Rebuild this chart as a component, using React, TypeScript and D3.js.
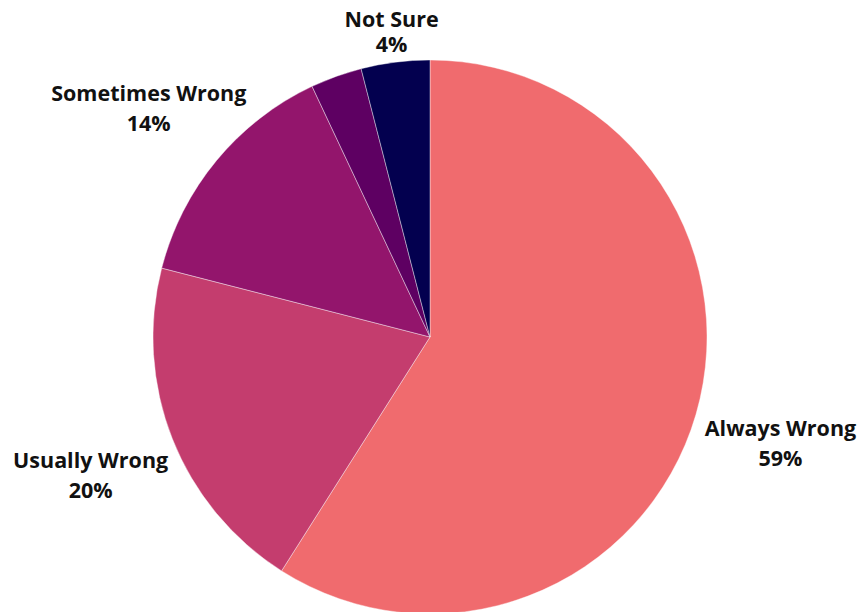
import { useEffect, useRef } from 'react';
import * as d3 from 'd3';

const CATEGORIES = ['Always Wrong', 'Usually Wrong', 'Sometimes Wrong', 'Rarely Wrong', 'Not Sure'];
const VALUES = [59, 20, 14, 3, 4];
const COLORS = ['#F06B6E', '#C43D6E', '#93156C', '#5E0062', '#03004F'];
// the tiny slice carries no label in the original
const SHOW_LABEL = [true, true, true, false, true];

export default function App() {
  const svgRef = useRef<SVGSVGElement>(null);

  useEffect(() => {
    const el = svgRef.current;
    if (!el) return;
    const svg = d3.select(el);
    svg.selectAll('*').remove();

    const W = 862;
    const H = 612;
    const cx = 430;
    const cy = 337;
    const r = 277;

    const data = CATEGORIES.map((c, i) => ({ name: c, value: VALUES[i], color: COLORS[i], show: SHOW_LABEL[i] }));

    const pie = d3.pie<typeof data[number]>().value((d) => d.value).sort(null);
    const arcs = pie(data);
    const arc = d3.arc<d3.PieArcDatum<typeof data[number]>>().innerRadius(0).outerRadius(r);

    const g = svg.append('g').attr('transform', `translate(${cx},${cy})`);

    g.selectAll('path.slice')
      .data(arcs)
      .join('path')
      .attr('class', 'slice')
      .attr('d', arc)
      .attr('fill', (d) => d.data.color)
      .attr('stroke', '#ffffff')
      .attr('stroke-width', 0.4);

    // labels sit outside the pie; near the top they slide in along the same ray
    const labelR = 365;
    arcs.filter((d) => d.data.show).forEach((d) => {
      const mid = (d.startAngle + d.endAngle) / 2;
      let rr = labelR;
      const minY = 33 - cy;
      const top = -Math.cos(mid) * rr < minY;
      if (top) rr = minY / -Math.cos(mid);
      const lx = Math.sin(mid) * rr;
      const ly = top ? minY : -Math.cos(mid) * rr + 3;
      const gap = top ? 25 : 30;

      const t = g.append('text')
        .attr('text-anchor', 'middle')
        .attr('font-family', "'Open Sans', sans-serif")
        .attr('font-weight', 700)
        .attr('font-size', '21.5px')
        .attr('fill', '#111111');
      t.append('tspan').attr('x', lx).attr('y', ly - 6).text(d.data.name);
      t.append('tspan').attr('x', lx).attr('y', ly - 6 + gap).text(`${d.data.value}%`);
    });

    svg.attr('width', W).attr('height', H);
  }, []);

  return (
    <div style={{ position: 'fixed', left: 0, top: 0, width: 862, height: 612, background: '#fff', overflow: 'hidden' }}>
      <svg ref={svgRef} width={862} height={612} style={{ display: 'block' }} />
    </div>
  );
}
